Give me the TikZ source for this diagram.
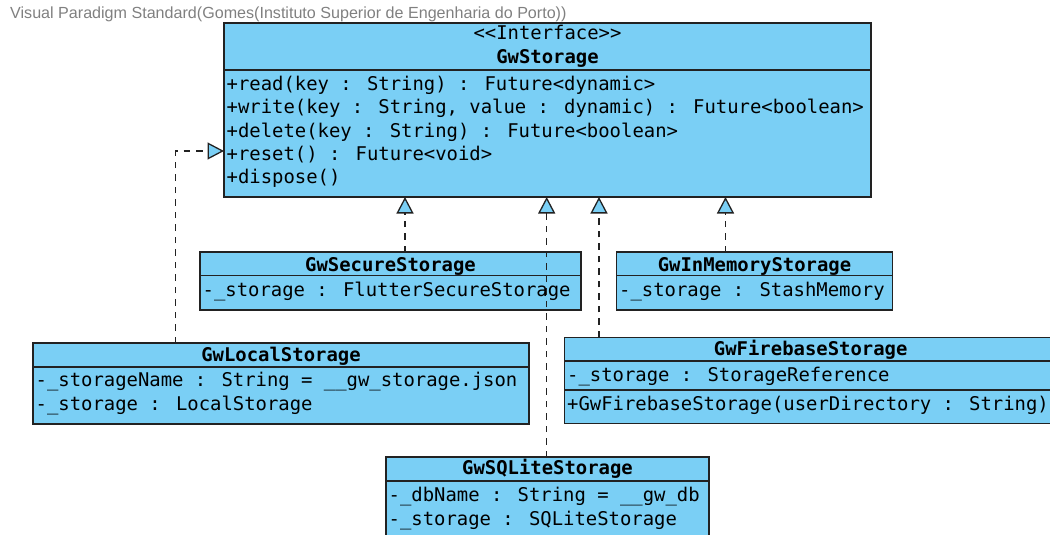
\documentclass[tikz,border=0pt]{standalone}
\usepackage{fontspec}
\setmainfont{Liberation Sans}
\newfontfamily\umlmono{DejaVu Sans Mono}
\usetikzlibrary{arrows.meta}
\definecolor{classfill}{RGB}{122,207,245}
\definecolor{classline}{RGB}{34,34,34}
\definecolor{credit}{RGB}{128,128,128}

\tikzset{
  cls/.style={rectangle, draw=classline, fill=classfill, line width=1.4pt,
    anchor=north west, inner sep=0pt, outer sep=0pt},
  sepline/.style={draw=classline, line width=1.2pt},
  hd/.style={anchor=base, inner sep=0pt,
    font=\umlmono\bfseries\fontsize{18.9}{23.4}\selectfont},
  stereo/.style={anchor=base, inner sep=0pt,
    font=\umlmono\fontsize{18.9}{23.4}\selectfont},
  row/.style={anchor=base west, inner sep=0pt,
    font=\umlmono\fontsize{18.9}{23.4}\selectfont},
  realize/.style={draw=classline, line width=1.3pt, dash pattern=on 6.5pt off 6pt,
    -{Triangle[length=16.5pt, width=17pt, fill=classfill, line width=1.3pt]}}
}

\begin{document}
\begin{tikzpicture}[x=1pt, y=-1pt]
\useasboundingbox (0,0) rectangle (1050,535);
\clip (0,0) rectangle (1050,535);

% tool credit line
\node[anchor=base west, inner sep=0pt, text=credit,
  font=\fontsize{16.1}{16}\selectfont] (credit) at (10,19)
  {Visual Paradigm Standard(Gomes(Instituto Superior de Engenharia do Porto))};

% interface GwStorage
\node[cls, minimum width=647pt, minimum height=174pt] (store) at (224,23) {};
\draw[sepline] (store.west |- 0,70) -- (store.east |- 0,70);
\node[stereo] (storeSt) at (547.5,40) {<{}<Interface>{}>};
\node[hd] (storeH) at (547.5,63.5) {GwStorage};
\node[row] (storeR1) at (226.5,90) {+read(key : String) : Future<dynamic>};
\node[row] (storeR2) at (226.5,113.5) {+write(key : String, value : dynamic) : Future<boolean>};
\node[row] (storeR3) at (226.5,137) {+delete(key : String) : Future<boolean>};
\node[row] (storeR4) at (226.5,160.4) {+reset() : Future<void>};
\node[row] (storeR5) at (226.5,183.8) {+dispose()};

% GwSecureStorage
\node[cls, minimum width=381pt, minimum height=58pt] (secure) at (200,252) {};
\draw[sepline] (secure.west |- 0,275.5) -- (secure.east |- 0,275.5);
\node[hd] (secureH) at (390.5,271) {GwSecureStorage};
\node[row] (secureR1) at (202.5,296) {-\_storage : FlutterSecureStorage};

% GwInMemoryStorage
\node[cls, minimum width=276pt, minimum height=58pt] (mem) at (616.5,252) {};
\draw[sepline] (mem.west |- 0,275.5) -- (mem.east |- 0,275.5);
\node[hd] (memH) at (754.5,271) {GwInMemoryStorage};
\node[row] (memR1) at (619,296) {-\_storage : StashMemory};

% GwLocalStorage
\node[cls, minimum width=496pt, minimum height=81pt] (local) at (33,343) {};
\draw[sepline] (local.west |- 0,367) -- (local.east |- 0,367);
\node[hd] (localH) at (281,361) {GwLocalStorage};
\node[row] (localR1) at (35.5,386.5) {-\_storageName : String = \_\_gw\_storage.json};
\node[row] (localR2) at (35.5,410) {-\_storage : LocalStorage};

% GwFirebaseStorage
\node[cls, minimum width=492.5pt, minimum height=86pt] (fire) at (564.5,337.3) {};
\draw[sepline] (fire.west |- 0,361) -- (fire.east |- 0,361);
\draw[sepline] (fire.west |- 0,390) -- (fire.east |- 0,390);
\node[hd] (fireH) at (810.7,355.7) {GwFirebaseStorage};
\node[row] (fireR1) at (567,381.5) {-\_storage : StorageReference};
\node[row] (fireR2) at (567,410) {+GwFirebaseStorage(userDirectory : String)};

% GwSQLiteStorage
\node[cls, minimum width=323pt, minimum height=92pt] (sqlite) at (386,457) {};
\draw[sepline] (sqlite.west |- 0,481) -- (sqlite.east |- 0,481);
\node[hd] (sqliteH) at (547.5,474.5) {GwSQLiteStorage};
\node[row] (sqliteR1) at (388.5,501.5) {-\_dbName : String = \_\_gw\_db};
\node[row] (sqliteR2) at (388.5,525) {-\_storage : SQLiteStorage};

% realization arrow tips on GwStorage
\coordinate (tSec) at ([xshift=181pt]store.south west);
\coordinate (tSql) at ([xshift=322.7pt]store.south west);
\coordinate (tFire) at ([xshift=375pt]store.south west);
\coordinate (tMem) at ([xshift=501.5pt]store.south west);
\coordinate (tLoc) at ([yshift=-128pt]store.north west);
\coordinate (sLoc) at ([xshift=142.7pt]local.north west);

% realizations
\draw[realize] (secure.north -| tSec) -- (tSec);
\draw[realize] (sqlite.north -| tSql) -- (tSql);
\draw[realize] (fire.north -| tFire) -- (tFire);
\draw[realize] (mem.north -| tMem) -- (tMem);
\draw[realize] (sLoc) |- (tLoc);
\end{tikzpicture}
\end{document}
